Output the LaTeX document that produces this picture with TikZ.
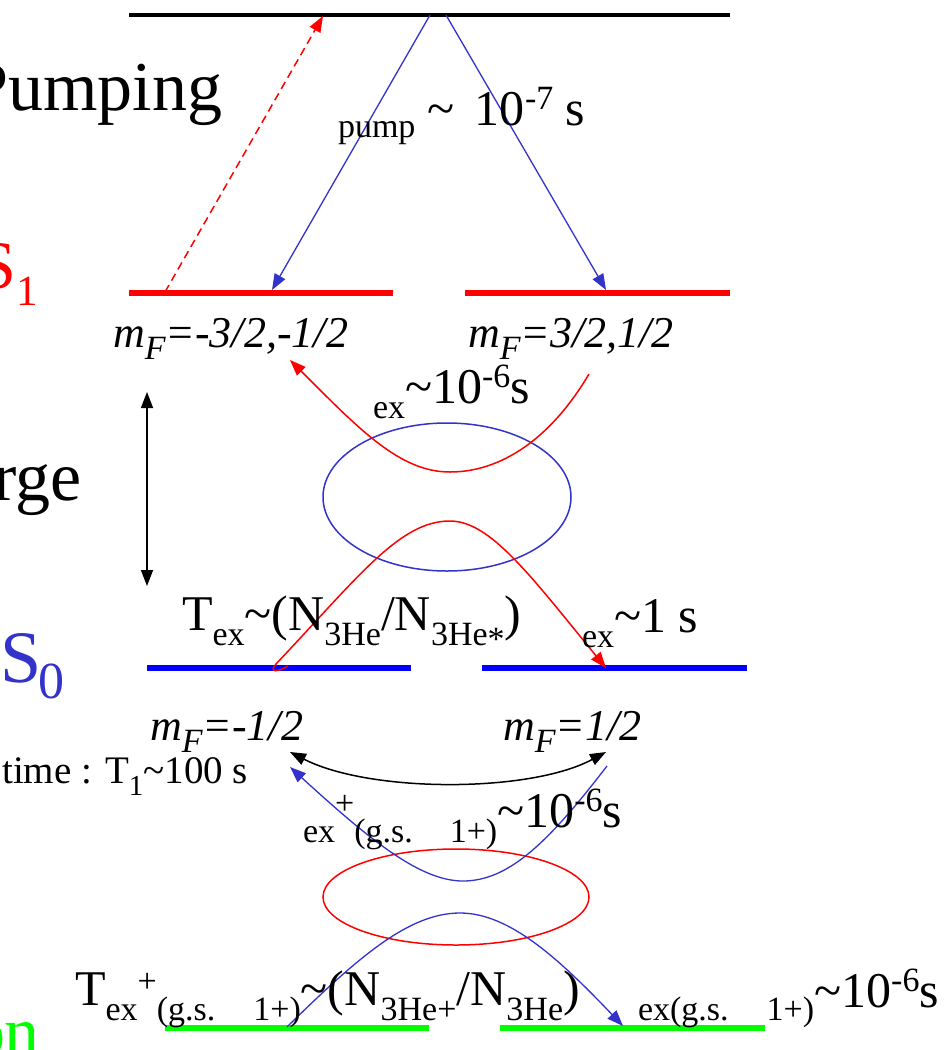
\documentclass[tikz,border=0pt]{standalone}
\usepackage{fontspec}
\setmainfont{Liberation Serif}
\usetikzlibrary{arrows.meta,shapes.geometric}
\definecolor{myblue}{HTML}{3333CC}
\definecolor{levblue}{HTML}{0000FF}
\definecolor{mygreen}{HTML}{00FF00}
\newcommand\fsz[1]{\fontsize{#1}{#1}\selectfont}
\newcommand\mn{\fsz{50}}
\newcommand\lowtxt[2][15pt]{\raisebox{-#1}{\fsz{34}#2}}
\newcommand\hightxt[2][16pt]{\raisebox{#1}{\fsz{34}#2}}
\newcommand\tld{\textasciitilde}
\newcommand\mFlab{{\fsz{44}\itshape m\raisebox{-12pt}{\fsz{34}F}}}
\begin{document}
\begin{tikzpicture}[x=1pt,y=-1pt,
  lbl/.style={inner sep=0pt, outer sep=0pt, font=\mn},
  mlbl/.style={inner sep=0pt, outer sep=0pt, font=\fsz{44}\itshape, anchor=base west},
  lev/.style={line width=#1},
  tip/.style={-{Triangle[length=16pt,width=12pt]}},
  dtip/.style={{Triangle[length=16pt,width=12pt]}-{Triangle[length=16pt,width=12pt]}},
  crv/.style={line width=1.5pt}]
\useasboundingbox (0,0) rectangle (943,1050);
\clip (0,0) rectangle (943,1050);
\fill[white] (0,0) rectangle (943,1050);

% ---------- levels ----------
\coordinate (topL) at (129,15);   \coordinate (topR) at (730,15);
\coordinate (s1lL) at (129,293);  \coordinate (s1lR) at (393,293);
\coordinate (s1rL) at (465,293);  \coordinate (s1rR) at (730,293);
\coordinate (s0lL) at (147,668);  \coordinate (s0lR) at (411,668);
\coordinate (s0rL) at (482,668);  \coordinate (s0rR) at (747,668);
\coordinate (gLL) at (165,1028);  \coordinate (gLR) at (429,1028);
\coordinate (gRL) at (500,1028);  \coordinate (gRR) at (765,1028);
\draw[lev=3.5pt, black] (topL) -- (topR);
\draw[lev=6pt, red] (s1lL) -- (s1lR);
\draw[lev=6pt, red] (s1rL) -- (s1rR);
\draw[lev=5.5pt, levblue] (s0lL) -- (s0lR);
\draw[lev=5.5pt, levblue] (s0rL) -- (s0rR);
\draw[lev=6pt, mygreen] (gLL) -- (gLR);
\draw[lev=6pt, mygreen] (gRL) -- (gRR);

% ---------- big side labels ----------
\node[lbl, anchor=base east] (pumping) at (222,110) {\fsz{70}Pumping};
\node[lbl, anchor=base west, text=red] (s1) at (-21,288) {\fsz{68}S\raisebox{-17pt}{\fsz{43}1}};
\node[lbl, anchor=base east] (rge) at (82,500) {\fsz{70}rge};
\node[lbl, anchor=base west, text=myblue] (s0) at (0,682) {\fsz{74}S\kern-3pt\raisebox{-16pt}{\fsz{52}0}};
\node[lbl, anchor=base east, text=mygreen] (on) at (40,1055) {\fsz{70}on};

% ---------- pumping arrows ----------
\coordinate (pA) at (430,15);  \coordinate (pB) at (446,15);
\coordinate (pAe) at (272,290); \coordinate (pBe) at (606,290);
\coordinate (dS) at (165,292);  \coordinate (dE) at (323,16);
\draw[crv, myblue, tip, line width=1.3pt] (pA) -- (pAe);
\draw[crv, myblue, tip, line width=1.3pt] (pB) -- (pBe);
\draw[crv, red, dashed, dash pattern=on 8pt off 5pt, tip] (dS) -- (dE);
\node[lbl, anchor=base west] (pumpt) at (338,125) {\lowtxt[12pt]{pump} \tld\hspace{20pt}10\hightxt{-7} s};

% ---------- m_F labels ----------
\node[mlbl] (mf1) at (113,347) {\mFlab=-3/2,-1/2};
\node[mlbl] (mf2) at (468,347) {\mFlab=3/2,1/2};
\node[mlbl] (mf3) at (150,740) {\mFlab=-1/2};
\node[mlbl] (mf4) at (503,740) {\mFlab=1/2};

% ---------- discharge double arrow ----------
\coordinate (vT) at (147,392); \coordinate (vB) at (147,586);
\draw[crv, dtip] (vT) -- (vB);

% ---------- metastable exchange ----------
\node[draw=myblue, line width=1.5pt, ellipse, minimum width=248pt, minimum height=148pt, inner sep=0pt] (ell1) at (447,497) {};
\coordinate (r1s) at (589,374); \coordinate (r1e) at (290,360);
\draw[crv, red, tip] (r1s) .. controls (550,440) and (500,472) .. (450,472) .. controls (400,472) and (360,430) .. (r1e);
\coordinate (r2s) at (288,666); \coordinate (r2e) at (606,668);
\draw[crv, red, tip] (r2s) .. controls (278,672) and (268,673) .. (276,664) .. controls (360,575) and (400,521) .. (450,521) .. controls (490,521) and (530,575) .. (r2e);
\node[lbl, anchor=base west] (exa) at (373,403) {\lowtxt{ex}\tld 10\hightxt{-6}s};
\node[lbl, anchor=base west] (tex) at (182,630) {T\lowtxt{ex}\tld(N\lowtxt{3He}/N\lowtxt{3He\raisebox{-5pt}{*}})};
\node[lbl, anchor=base west] (ex1) at (582,632) {\lowtxt{ex}\tld 1 s};

% ---------- relaxation ----------
\coordinate (bL) at (290,752); \coordinate (bR) at (606,752);
\draw[crv, dtip] (bL) .. controls (370,793) and (530,793) .. (bR);
\node[lbl, anchor=base east] (t1) at (248,783) {\fsz{39}time : T\raisebox{-12pt}{\fsz{29}1}\tld 100 s};

% ---------- ion exchange ----------
\node[draw=red, line width=1.5pt, ellipse, minimum width=266pt, minimum height=96pt, inner sep=0pt] (ell2) at (456,897) {};
\coordinate (b1s) at (607,766); \coordinate (b1e) at (290,767);
\draw[crv, myblue, tip, line width=1.3pt] (b1s) .. controls (550,840) and (510,881) .. (463,881) .. controls (420,881) and (370,840) .. (b1e);
\coordinate (b2s) at (287,1027); \coordinate (b2e) at (623,1026);
\draw[crv, myblue, tip, line width=1.3pt] (b2s) .. controls (360,955) and (410,913) .. (460,913) .. controls (510,913) and (560,960) .. (b2e);
\node[lbl, anchor=base west] (exb) at (303,827) {\lowtxt{ex}\hightxt[13pt]{+}\lowtxt{(g.s.}\hspace{37pt}\lowtxt{1+)}\tld 10\hightxt{-6}s};
\node[lbl, anchor=base west] (texb) at (75,1005) {T\lowtxt{ex}\hightxt[13pt]{+}\lowtxt{(g.s.}\hspace{38pt}\lowtxt{1+)}\tld(N\lowtxt{3He+}/N\lowtxt{3He})};
\node[lbl, anchor=base west] (exc) at (638,1007) {\lowtxt[13pt]{ex(g.s.}\hspace{38pt}\lowtxt[13pt]{1+)}\tld 10\hightxt{-6}s};
\end{tikzpicture}
\end{document}
